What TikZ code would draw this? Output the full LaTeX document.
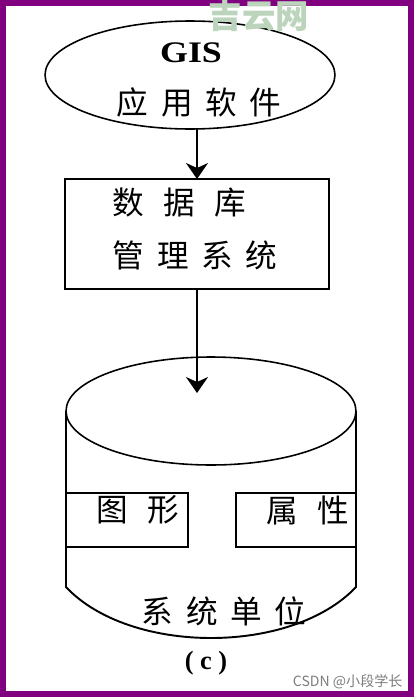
\documentclass[tikz,border=0pt]{standalone}
\usepackage{fontspec}
\usepackage{tikz}
\usetikzlibrary{shapes.geometric,arrows.meta}
\setmainfont{Liberation Serif}
\newfontfamily\cjk[LetterSpace=40]{Noto Sans CJK SC}
\newfontfamily\cjkwide[LetterSpace=60]{Noto Sans CJK SC}
\newfontfamily\cjkplain{Noto Sans CJK SC}
\definecolor{framepurple}{RGB}{128,0,128}
\definecolor{markgreen}{RGB}{188,212,188}
\definecolor{markgray}{RGB}{125,125,125}

\begin{document}
\begin{tikzpicture}[x=0.02cm,y=-0.02cm,line width=1.1pt,
    >={Stealth[length=0.32cm,width=0.44cm,inset=0.1cm]}]
			\tikzstyle{oval} = [ellipse,draw,line width=0.9pt,minimum width=5.8cm,minimum height=2.16cm,inner sep=0pt,outer sep=0pt]
			\tikzstyle{block} = [rectangle,draw,inner sep=0pt,outer sep=0pt]
			\tikzstyle{word} = [inner sep=0pt,anchor=west,font=\cjk\fontsize{18}{20}\selectfont]
			
			% frame
			\fill[framepurple] (0,0) rectangle (414,697);
			\fill[white] (6,6) rectangle (408,691);
			\useasboundingbox (0,0) rectangle (414,697);
			
			\node[oval] (app) at (190,75) {};
			\node[inner sep=0pt,xscale=1.2,font=\bfseries\fontsize{17}{19}\selectfont] (gis) at (191,53) {GIS};
			\node[word] (appname) at (116,102) {应用软件};
			
			\node[block,minimum width=5.28cm,minimum height=2.2cm] (dbms) at (197,234) {};
			\node[word,font=\cjkwide\fontsize{18}{20}\selectfont] (dbname1) at (112,203) {数据库};
			\node[word] (dbname2) at (112,255) {管理系统};
			
			\node[oval] (dbase) at (211,411) {};
			\draw (dbase.west) -- (66,587) .. controls (130,655) and (292,655) .. (356,587) -- (dbase.east);
			\node[block,minimum width=2.44cm,minimum height=1.08cm] (shapebox) at (127,520) {};
			\node[block,minimum width=2.4cm,minimum height=1.08cm] (attrbox) at (296,520) {};
			\node[word,font=\cjkwide\fontsize{18}{20}\selectfont] (shapetxt) at (96,510) {图形};
			\node[word,font=\cjkwide\fontsize{18}{20}\selectfont] (attrtxt) at (266,510) {属性};
			\node[word] (unit) at (141,611) {系统单位};
			\node[inner sep=0pt,font=\bfseries\fontsize{15}{17}\selectfont] (caption) at (206,663) {( c )};
			\coordinate (dbtip) at (197,393);
			
			\draw[->] (app.south -| dbms.north) -- (dbms.north);
			\draw[->] (dbms.south) -- (dbtip);
			
			% watermarks
			\node[inner sep=0pt,text=markgreen,font=\cjkplain\bfseries\fontsize{19}{21}\selectfont] (mark1) at (259,16) {吉云网};
			\node[inner sep=0pt,anchor=west,text=markgray,font=\cjkplain\fontsize{8}{10}\selectfont] (mark2) at (292,682) {CSDN @小段学长};
		\end{tikzpicture}
\end{document}
